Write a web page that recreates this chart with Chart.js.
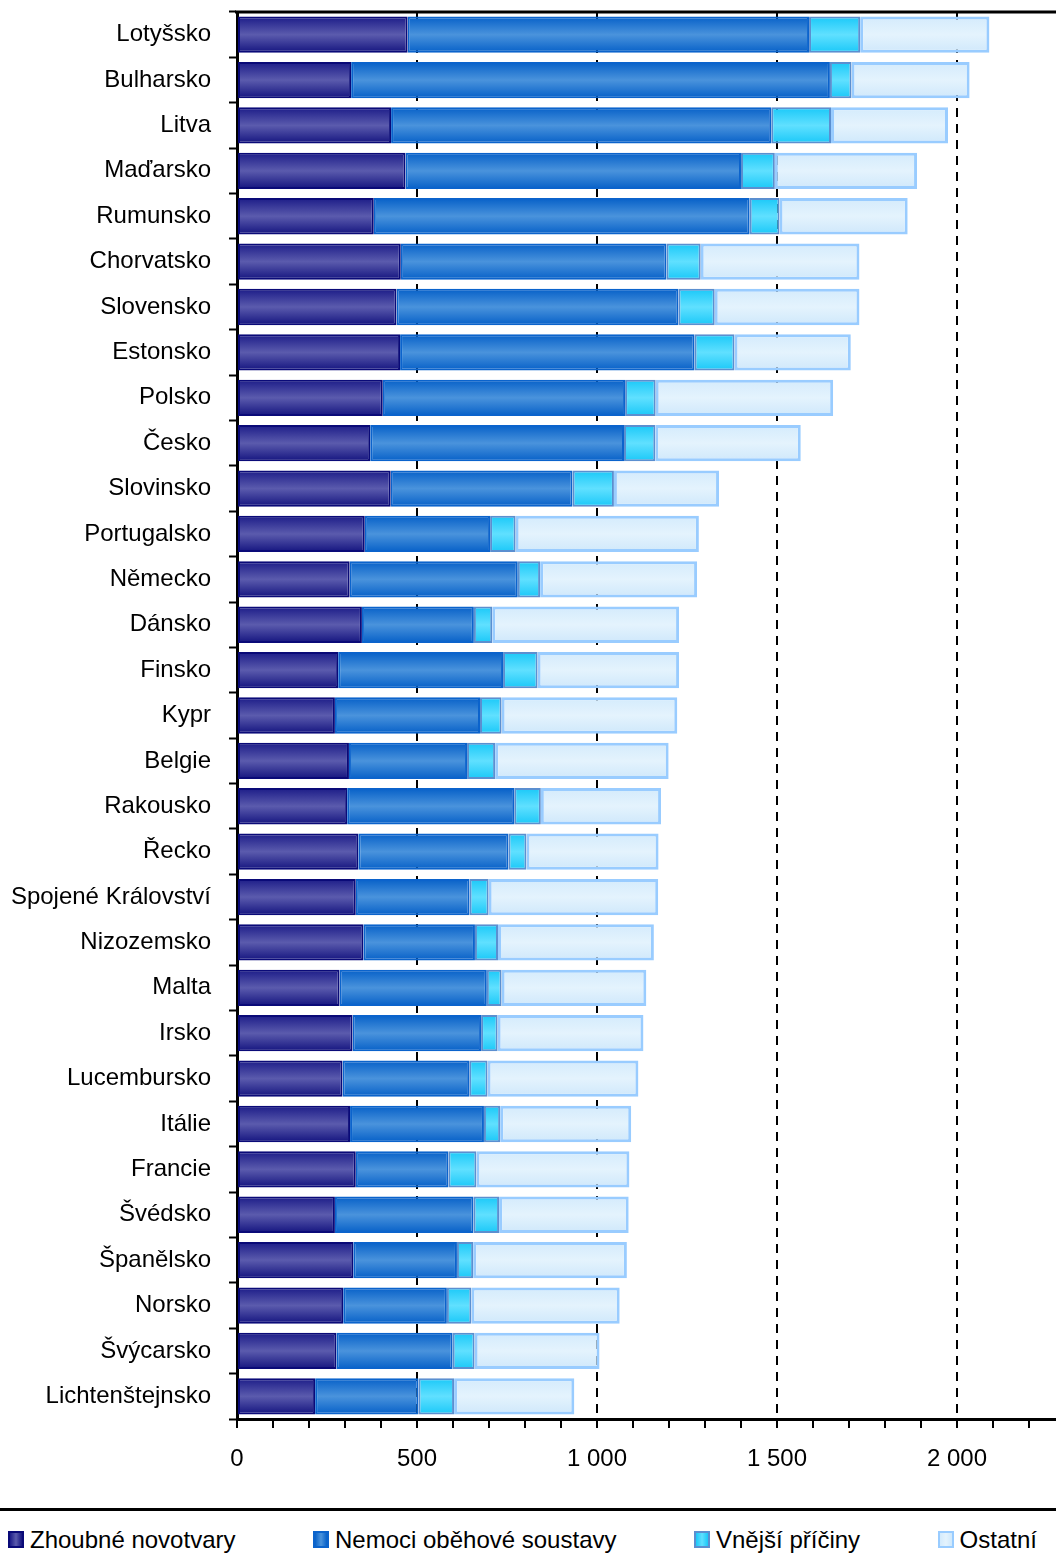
<!DOCTYPE html>
<html>
<head>
<meta charset="utf-8">
<script src="https://cdn.jsdelivr.net/npm/chart.js@4.4.0/dist/chart.umd.min.js"></script>
<style>
  html, body { margin: 0; padding: 0; background: #fff; overflow: hidden; }
  canvas { display: block; }
  #legenda {
    width: 1056px; height: 45px; padding: 6px 19px 0 8px; box-sizing: content-box;
    border-top: 3px solid #000; display: flex; justify-content: space-between; align-items: center;
    font: 24px 'Liberation Sans', Arial, sans-serif; color: #000;
  }
  #legenda { width: 1029px; }
  .polozka { display: flex; align-items: center; white-space: nowrap; }
  .ctverec { width: 12px; height: 13px; border: 2px solid; margin-right: 6px; }
</style>
</head>
<body>
<canvas id="chart" width="1056" height="1508"></canvas>
<div id="legenda"></div>
<script>
// zeme serazene podle celkove umrtnosti
const zeme = ['Lotyšsko', 'Bulharsko', 'Litva', 'Maďarsko', 'Rumunsko', 'Chorvatsko', 'Slovensko', 'Estonsko',
  'Polsko', 'Česko', 'Slovinsko', 'Portugalsko', 'Německo', 'Dánsko', 'Finsko', 'Kypr', 'Belgie', 'Rakousko',
  'Řecko', 'Spojené Království', 'Nizozemsko', 'Malta', 'Irsko', 'Lucembursko', 'Itálie', 'Francie', 'Švédsko',
  'Španělsko', 'Norsko', 'Švýcarsko', 'Lichtenštejnsko'];

const zhoubne = [474, 317, 428, 468, 380, 455, 443, 453, 405, 370, 427, 355, 313, 347, 281, 272, 311, 306,
  337, 330, 351, 285, 321, 293, 314, 330, 272, 323, 295, 276, 217];
const obehove = [1115, 1330, 1056, 932, 1044, 738, 783, 818, 673, 705, 505, 348, 467, 311, 458, 403, 328, 464,
  417, 316, 310, 409, 357, 352, 372, 257, 385, 288, 288, 323, 287];
const vnejsi = [142, 60, 166, 94, 83, 95, 101, 111, 85, 87, 115, 71, 62, 51, 96, 60, 78, 74,
  50, 53, 64, 41, 46, 51, 45, 78, 71, 45, 68, 61, 99];
const ostatni = [359, 328, 325, 395, 356, 441, 402, 323, 493, 404, 292, 509, 436, 519, 393, 488, 482, 334,
  367, 471, 433, 402, 405, 419, 364, 425, 360, 427, 412, 347, 334];

const nazvySerii = ['Zhoubné novotvary', 'Nemoci oběhové soustavy', 'Vnější příčiny', 'Ostatní'];

const pismo = { family: "'Liberation Sans', Arial, sans-serif", size: 24 };

// svisly prechod pres sloupec (tmave okraje, svetly stred)
function prechod(barvy) {
  return function (c) {
    const chart = c.chart;
    const y = chart.scales.y;
    if (!y || c.dataIndex === undefined) return barvy[1];
    const stred = y.getPixelForValue(c.dataIndex);
    const pul = Math.abs(y.getPixelForValue(1) - y.getPixelForValue(0)) * 0.4;
    if (!isFinite(stred) || !isFinite(pul) || pul === 0) return barvy[1];
    const g = chart.ctx.createLinearGradient(0, stred - pul, 0, stred + pul);
    g.addColorStop(0, barvy[0]);
    g.addColorStop(0.5, barvy[1]);
    g.addColorStop(1, barvy[2]);
    return g;
  };
}

const vyplne = [
  ['#1c1c88', '#5b5bad', '#14147f'],
  ['#0660c8', '#4a93dc', '#0660c8'],
  ['#1ac8f8', '#60e0ff', '#1ac8f8'],
  ['#d4ebfc', '#e4f3fd', '#cfe8fb']
];
const okraje = ['#0a0a78', '#0b63cc', '#5b8fd0', '#99ccff'];
const sirkyOkraju = [2, 2, 2, 3];

function formatCislo(v) {
  return String(v).replace(/\B(?=(\d{3})+(?!\d))/g, ' ');
}

const hodnoty = [zhoubne, obehove, vnejsi, ostatni];

// cara nahore nad grafem
const horniCara = {
  id: 'horniCara',
  afterDraw(chart) {
    const ctx = chart.ctx;
    const a = chart.chartArea;
    ctx.save();
    ctx.strokeStyle = '#000';
    ctx.lineWidth = 3;
    ctx.beginPath();
    ctx.moveTo(a.left - 2, a.top);
    ctx.lineTo(a.right, a.top);
    ctx.stroke();
    ctx.restore();
  }
};

const graf = new Chart(document.getElementById('chart').getContext('2d'), {
  type: 'bar',
  data: {
    labels: zeme,
    datasets: hodnoty.map((h, i) => ({
      label: nazvySerii[i],
      data: h,
      backgroundColor: prechod(vyplne[i]),
      borderColor: okraje[i],
      borderWidth: sirkyOkraju[i],
      borderSkipped: false,
      barPercentage: 0.8,
      categoryPercentage: 1.0
    }))
  },
  options: {
    indexAxis: 'y',
    responsive: false,
    animation: false,
    layout: { padding: { top: 12, right: 0, bottom: 0, left: 0 } },
    plugins: {
      tooltip: { enabled: false },
      legend: { display: false }
    },
    scales: {
      x: {
        stacked: true,
        min: 0,
        max: 2275,
        afterFit: s => { s.height = 89; s.paddingLeft = 0; s.paddingRight = 0; },
        ticks: {
          stepSize: 100,
          includeBounds: false,
          autoSkip: false,
          maxRotation: 0,
          padding: 17,
          color: '#000',
          font: pismo,
          callback: v => (v % 500 === 0 ? formatCislo(v) : '')
        },
        grid: {
          color: c => (c.tick && c.tick.value % 500 === 0 && c.tick.value > 0) ? '#000' : 'rgba(0,0,0,0)',
          lineWidth: 2,
          tickColor: '#000',
          tickLength: 9,
          tickWidth: 2
        },
        border: { display: true, color: '#000', width: 3, dash: [9, 7] }
      },
      y: {
        stacked: true,
        afterFit: s => { s.width = 237; s.paddingTop = 0; s.paddingBottom = 0; },
        ticks: { color: '#000', font: pismo, padding: 18, autoSkip: false },
        grid: {
          drawOnChartArea: false,
          offset: true,
          tickColor: '#000',
          tickLength: 8,
          tickWidth: 2
        },
        border: { display: true, color: '#000', width: 3 }
      }
    }
  },
  plugins: [horniCara]
});

// legenda pod grafem
const legenda = document.getElementById('legenda');
graf.data.datasets.forEach((ds, i) => {
  const polozka = document.createElement('div');
  polozka.className = 'polozka';
  const ctverec = document.createElement('span');
  ctverec.className = 'ctverec';
  ctverec.style.borderColor = okraje[i];
  ctverec.style.background = 'linear-gradient(to right, ' + vyplne[i][0] + ', ' + vyplne[i][1] + ', ' + vyplne[i][2] + ')';
  const text = document.createElement('span');
  text.textContent = ds.label;
  polozka.appendChild(ctverec);
  polozka.appendChild(text);
  legenda.appendChild(polozka);
});
</script>
</body>
</html>
